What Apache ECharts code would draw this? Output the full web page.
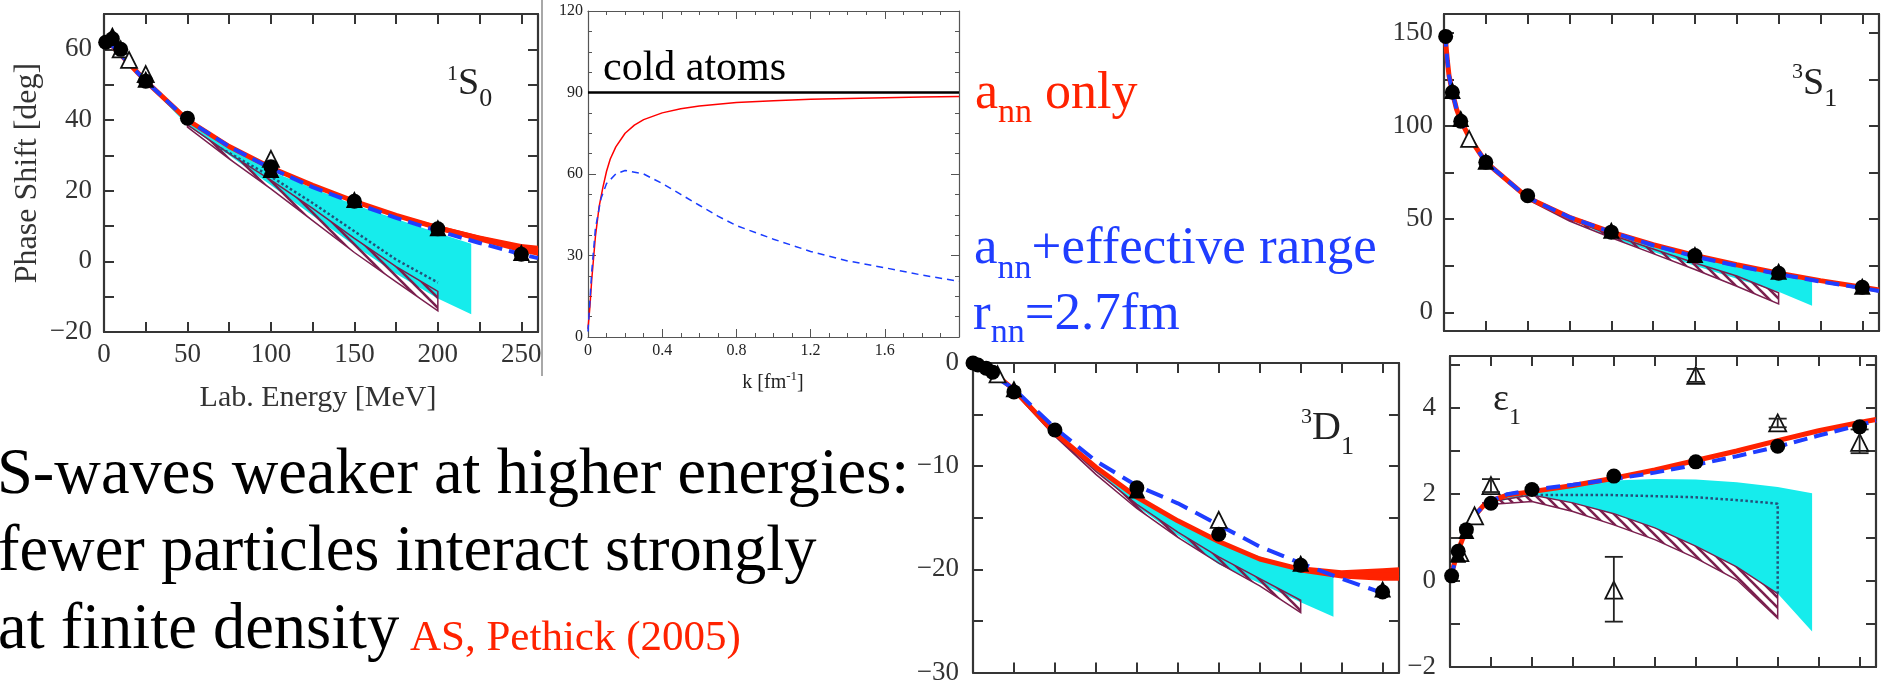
<!DOCTYPE html>
<html>
<head>
<meta charset="utf-8">
<script src="https://cdn.jsdelivr.net/npm/echarts@6/dist/echarts.min.js"></script>
<style>
  html, body { margin: 0; padding: 0; background: #fff; }
  #chart { width: 1886px; height: 686px; }
</style>
</head>
<body>
<div id="chart"></div>
<script>
// ---------- 1S0 panel (lab energy, MeV) ----------
const s0LineX   = [1, 5, 10, 15, 25, 50, 75, 100, 125, 150, 175, 200, 225, 250, 260];
const s0RedY    = [62, 61, 58.5, 56, 51, 40, 32.5, 26.5, 21.5, 17, 13, 9.5, 6.5, 3.8, 3.0];
const s0BlueY   = [62, 61, 58.5, 56, 51, 40, 32.5, 26.3, 21, 16.5, 12.3, 8.6, 5.2, 2.0, 0.9];
const s0RedBandX = [175, 200, 225, 250, 260];
const s0RedBandHi = [13.4, 10.2, 7.3, 4.9, 4.4];
const s0RedBandLo = [12.6, 8.8, 5.6, 2.6, 1.6];
const s0CyanHiX = [20, 50, 100, 150, 200, 220];
const s0CyanHiY = [53.5, 40, 25.5, 16, 8, 5];
const s0CyanLoX = [20, 50, 75, 100, 125, 150, 175, 200, 220];
const s0CyanLoY = [53, 38.5, 30, 21.5, 13, 4.5, -3.5, -10.5, -15];
const s0HatchX  = [50, 75, 100, 125, 150, 175, 200];
const s0HatchLo = [38, 29, 20.5, 11.5, 2.5, -5.8, -14];
const s0HatchHi = [38.6, 30.5, 23, 15, 6.5, -1.5, -8.5];
const s0DotX    = [70, 100, 125, 150, 175, 200];
const s0DotY    = [32, 24, 16.5, 8.5, 0.5, -6];
const s0CircX   = [1, 5, 10, 25, 50, 100, 150, 200, 250];
const s0CircY   = [62, 63, 60, 51, 40.5, 26.8, 17, 9.2, 2];
const s0TriX    = [5, 25, 100, 150, 200, 250];
const s0TriY    = [64, 51.5, 26, 17.5, 9.5, 2.5];
const s0OpenX   = [10, 15, 25, 100];
const s0OpenY   = [60, 57, 53, 29];

// ---------- cold atoms panel (k, fm^-1) ----------
const kRedX  = [0, 0.01, 0.02, 0.04, 0.06, 0.08, 0.1, 0.12, 0.15, 0.2, 0.25, 0.3, 0.4, 0.5, 0.6, 0.8, 1.0, 1.2, 1.4, 1.6, 1.8, 2.0];
const kRedY  = [3, 11, 21, 37, 48, 55, 61, 65.5, 70, 75, 78, 80, 82.5, 84, 85, 86.3, 87, 87.5, 87.8, 88.1, 88.3, 88.5];
const kBlueX = [0, 0.02, 0.04, 0.07, 0.1, 0.15, 0.2, 0.3, 0.4, 0.5, 0.6, 0.7, 0.8, 1.0, 1.2, 1.4, 1.6, 1.8, 2.0];
const kBlueY = [2, 24, 40, 51, 56.5, 60, 61.3, 60, 56.5, 52.5, 48.5, 44.5, 41, 36, 31.5, 28, 25.5, 22.8, 20.5];
const kColdX = [0, 2];
const kColdY = [90, 90];

// ---------- 3S1 panel ----------
const s1LineX  = [0.5, 1, 2, 3, 5, 7.5, 10, 15, 25, 50, 75, 100, 125, 150, 175, 200, 225, 250, 260];
const s1RedY   = [150, 145, 135, 127, 118, 109, 103, 94, 80.5, 61.5, 51, 43, 36.3, 30.5, 25.5, 21, 17, 13.5, 12];
const s1BlueY  = [150, 145, 135, 127, 118, 109, 103, 94, 80.5, 61.5, 51, 43, 36, 30, 25, 20.5, 16.5, 13, 11.5];
const s1CyanX  = [25, 50, 100, 150, 200, 220];
const s1CyanHi = [80.5, 61.5, 42.5, 29.5, 20, 16.5];
const s1CyanLo = [80, 60.5, 40, 25, 11, 3.5];
const s1HatchX  = [50, 75, 100, 125, 150, 175, 200];
const s1HatchLo = [60.5, 49, 40, 31.5, 23, 14, 4.5];
const s1HatchHi = [61, 50, 41.5, 34, 26.5, 19.5, 10.5];
const s1CircX  = [1, 5, 10, 25, 50, 100, 150, 200, 250];
const s1CircY  = [148, 118, 102.5, 80.5, 62.5, 43, 30.5, 21, 13.5];
const s1TriX   = [5, 10, 25, 100, 150, 200, 250];
const s1TriY   = [119, 104, 81, 44, 31, 22, 14];
const s1OpenX  = [15];
const s1OpenY  = [93];

// ---------- 3D1 panel ----------
const d1RedX   = [0, 10, 25, 50, 75, 100, 125, 150, 175, 200, 225, 250, 260];
const d1RedY   = [0, -0.6, -2.6, -6.8, -10.1, -13.0, -15.3, -17.3, -19.0, -20.0, -20.5, -20.6, -20.5];
const d1BlueX  = [0, 25, 50, 75, 100, 125, 150, 175, 200, 225, 250];
const d1BlueY  = [0, -2.5, -6.3, -9.5, -11.9, -13.6, -15.7, -17.8, -19.4, -20.9, -22.3];
const d1RedBandX  = [200, 225, 250, 260];
const d1RedBandHi = [-19.7, -20.1, -19.9, -19.8];
const d1RedBandLo = [-20.3, -20.9, -21.1, -21.1];
const d1CyanX  = [50, 100, 150, 200, 220];
const d1CyanHi = [-6.8, -13, -17.4, -20.1, -20.4];
const d1CyanLo = [-7, -13.9, -19.5, -23.2, -24.6];
const d1HatchX  = [25, 50, 75, 100, 125, 150, 175, 200];
const d1HatchLo = [-2.8, -7.1, -10.8, -14.1, -16.9, -19.4, -21.6, -24.2];
const d1HatchHi = [-2.6, -6.9, -10.5, -13.7, -16.4, -18.8, -20.9, -23.0];
const d1CircX  = [0, 3, 8, 12, 25, 50, 100, 150, 200, 250];
const d1CircY  = [0, -0.2, -0.5, -0.9, -2.8, -6.5, -12.1, -16.6, -19.6, -22.2];
const d1TriX   = [25, 100, 200, 250];
const d1TriY   = [-2.5, -12.3, -19.4, -21.9];
const d1OpenX  = [15, 150];
const d1OpenY  = [-1.1, -15.2];

// ---------- epsilon1 panel ----------
const e1LineX  = [0, 5, 10, 15, 20, 25, 35, 50, 75, 100, 125, 150, 175, 200, 225, 250, 260];
const e1RedY   = [0.05, 0.7, 1.2, 1.5, 1.72, 1.85, 1.98, 2.06, 2.2, 2.37, 2.56, 2.78, 3.0, 3.24, 3.47, 3.66, 3.73];
const e1BlueY  = [0.05, 0.65, 1.15, 1.5, 1.72, 1.85, 2.0, 2.1, 2.22, 2.35, 2.5, 2.68, 2.88, 3.1, 3.36, 3.6, 3.7];
const e1CyanX  = [25, 50, 75, 100, 125, 150, 175, 200, 221];
const e1CyanHi = [1.85, 2.05, 2.2, 2.32, 2.35, 2.34, 2.28, 2.17, 2.02];
const e1CyanLo = [1.8, 1.98, 1.8, 1.55, 1.22, 0.8, 0.32, -0.3, -1.18];
const e1HatchX  = [20, 50, 75, 100, 125, 150, 175, 200];
const e1HatchLo = [1.75, 1.83, 1.6, 1.29, 0.95, 0.52, 0.02, -0.87];
const e1HatchHi = [1.8, 1.98, 1.8, 1.55, 1.22, 0.8, 0.32, -0.3];
const e1DotX   = [40, 100, 150, 180, 200, 200];
const e1DotY   = [1.98, 1.98, 1.93, 1.85, 1.78, -0.3];
const e1CircX  = [1, 5, 10, 25, 50, 100, 150, 200, 250];
const e1CircY  = [0.11, 0.68, 1.18, 1.79, 2.11, 2.42, 2.75, 3.11, 3.56];
const e1TriX   = [5, 10];
const e1TriY   = [0.6, 1.15];
const e1OpenX  = [6, 15, 25, 100, 150, 200, 250];
const e1OpenY  = [0.65, 1.5, 2.2, -0.22, 4.75, 3.65, 3.2];
const e1ErrX   = [25, 100, 150, 200, 250];
const e1ErrLo  = [2.05, -0.95, 4.6, 3.55, 2.95];
const e1ErrHi  = [2.35, 0.55, 4.9, 3.75, 3.5];

// ---------- ticks and labels ----------
const energyTicks  = [0, 25, 50, 75, 100, 125, 150, 175, 200, 225, 250];
const energyLabels = [0, 50, 100, 150, 200, 250];
const s0YTicks  = [-20, -10, 0, 10, 20, 30, 40, 50, 60, 70];
const s0YLabels = [-20, 0, 20, 40, 60];
const s1YTicks  = [0, 25, 50, 75, 100, 125, 150];
const s1YLabels = [0, 50, 100, 150];
const d1YTicks  = [-30, -25, -20, -15, -10, -5, 0];
const d1YLabels = [-30, -20, -10, 0];
const e1YTicks  = [-2, -1, 0, 1, 2, 3, 4, 5];
const e1YLabels = [-2, 0, 2, 4];

// ---------- styles ----------
const SERIF = '"Liberation Serif", "Times New Roman", serif';
const FRAME = '#353535';
const RED = '#ff2200';
const BLUE = '#1f3dff';
const CYAN = '#16ecec';
const HATCH = '#7a1f4e';

const chart = echarts.init(document.getElementById('chart'));

function neg(v) { return v < 0 ? '\u2212' + (-v) : String(v); }
function pairs(xs, ys) { return xs.map((x, k) => [x, ys[k]]); }

// hatch pattern tile
const tile = document.createElement('canvas');
tile.width = 10; tile.height = 10;
(function () {
  const c = tile.getContext('2d');
  c.strokeStyle = HATCH; c.lineWidth = 2.6;
  c.beginPath(); c.moveTo(-2, -2); c.lineTo(12, 12); c.stroke();
  c.beginPath(); c.moveTo(8, -2); c.lineTo(12, 2); c.stroke();
  c.beginPath(); c.moveTo(-2, 8); c.lineTo(2, 12); c.stroke();
})();

const grids = [
  {left: 104, top: 14, width: 434, height: 318},   // 1S0
  {left: 588, top: 11, width: 371, height: 326},   // cold atoms
  {left: 1444, top: 14, width: 435, height: 317},  // 3S1
  {left: 973, top: 363, width: 426, height: 311},  // 3D1
  {left: 1450, top: 356, width: 426, height: 311}  // eps1
];

const xAxes = [], yAxes = [];
function bigFrame(gi, yMin, yMax, yTicks, yLabels, showX, yMargin) {
  const line = {show: true, onZero: false, lineStyle: {color: FRAME, width: 2.2}};
  const tick = (vals) => ({show: true, inside: true, length: 10, customValues: vals, lineStyle: {color: FRAME, width: 2}});
  const lab = (vals, margin) => ({show: true, customValues: vals, fontFamily: SERIF, fontSize: 27, color: '#333', margin: margin, formatter: neg});
  ['bottom', 'top'].forEach((pos, k) => xAxes.push({
    type: 'value', gridIndex: gi, position: pos, min: 0, max: 260,
    axisLine: line, axisTick: tick(energyTicks), splitLine: {show: false},
    axisLabel: (k === 0 && showX) ? lab(energyLabels, 9) : {show: false}
  }));
  ['left', 'right'].forEach((pos, k) => yAxes.push({
    type: 'value', gridIndex: gi, position: pos, min: yMin, max: yMax,
    axisLine: line, axisTick: tick(yTicks), splitLine: {show: false},
    axisLabel: k === 0 ? lab(yLabels, yMargin) : {show: false}
  }));
}
function smallFrame(gi) {
  const line = {show: true, onZero: false, lineStyle: {color: '#555', width: 1.2}};
  const tick = {show: true, inside: true, length: 8, lineStyle: {color: '#555', width: 1}};
  const minor = {show: true, splitNumber: 4, length: 4, lineStyle: {color: '#555', width: 1}};
  const lab = {show: true, fontFamily: SERIF, fontSize: 16, color: '#222', margin: 6, showMaxLabel: false};
  ['bottom', 'top'].forEach((pos, k) => xAxes.push({
    type: 'value', gridIndex: gi, position: pos, min: 0, max: 2, interval: 0.4,
    axisLine: line, axisTick: tick, minorTick: minor, splitLine: {show: false},
    axisLabel: k === 0 ? lab : {show: false}
  }));
  ['left', 'right'].forEach((pos, k) => yAxes.push({
    type: 'value', gridIndex: gi, position: pos, min: 0, max: 120, interval: 30,
    axisLine: line, axisTick: tick, minorTick: minor, splitLine: {show: false},
    axisLabel: k === 0 ? Object.assign({}, lab, {showMaxLabel: true, margin: 5}) : {show: false}
  }));
}
bigFrame(0, -20, 70, s0YTicks, s0YLabels, true, 12);
smallFrame(1);
bigFrame(2, -10, 160, s1YTicks, s1YLabels, false, 11);
bigFrame(3, -30, 0, d1YTicks, d1YLabels, false, 14);
bigFrame(4, -2, 5.2, e1YTicks, e1YLabels, false, 14);

const series = [];
function lineS(gi, xs, ys, color, width, type, z) {
  series.push({type: 'line', xAxisIndex: 2 * gi, yAxisIndex: 2 * gi, data: pairs(xs, ys),
    symbol: 'none', silent: true, z: z, lineStyle: {color: color, width: width, type: type}});
}
function bandS(gi, xHi, yHi, xLo, yLo, fill, stroke, z) {
  series.push({type: 'custom', xAxisIndex: 2 * gi, yAxisIndex: 2 * gi, clip: true, silent: true, z: z,
    data: [[xHi[0], yHi[0]]],
    renderItem: function (params, api) {
      const pts = [];
      xHi.forEach((x, k) => pts.push(api.coord([x, yHi[k]])));
      for (let k = xLo.length - 1; k >= 0; k--) pts.push(api.coord([xLo[k], yLo[k]]));
      return {type: 'polygon', shape: {points: pts},
        style: {fill: fill, stroke: stroke || null, lineWidth: stroke ? 1.5 : 0}};
    }});
}
function markS(gi, xs, ys, symbol, size, fill, border, z) {
  series.push({type: 'scatter', xAxisIndex: 2 * gi, yAxisIndex: 2 * gi, data: pairs(xs, ys),
    symbol: symbol, symbolSize: size, silent: true, z: z,
    itemStyle: {color: fill, borderColor: border || fill, borderWidth: border ? 1.8 : 0, opacity: 1}});
}
function errS(gi, xs, lo, hi) {
  series.push({type: 'custom', xAxisIndex: 2 * gi, yAxisIndex: 2 * gi, silent: true, z: 9,
    data: xs.map((x, k) => [x, lo[k], hi[k]]), encode: {x: 0, y: [1, 2]},
    renderItem: function (params, api) {
      const a = api.coord([api.value(0), api.value(1)]);
      const b = api.coord([api.value(0), api.value(2)]);
      const st = {stroke: '#222', lineWidth: 1.8};
      return {type: 'group', children: [
        {type: 'line', shape: {x1: a[0], y1: a[1], x2: b[0], y2: b[1]}, style: st},
        {type: 'line', shape: {x1: a[0] - 9, y1: a[1], x2: a[0] + 9, y2: a[1]}, style: st},
        {type: 'line', shape: {x1: b[0] - 9, y1: b[1], x2: b[0] + 9, y2: b[1]}, style: st}
      ]};
    }});
}
const hatchFill = {image: tile, repeat: 'repeat'};
const DASH = [14, 7];

// 1S0
bandS(0, s0CyanHiX, s0CyanHiY, s0CyanLoX, s0CyanLoY, CYAN, null, 2);
bandS(0, s0HatchX, s0HatchHi, s0HatchX, s0HatchLo, hatchFill, HATCH, 3);
lineS(0, s0DotX, s0DotY, '#24507a', 2.5, 'dotted', 4);
bandS(0, s0RedBandX, s0RedBandHi, s0RedBandX, s0RedBandLo, RED, null, 5);
lineS(0, s0LineX, s0RedY, RED, 5, 'solid', 5);
lineS(0, s0LineX, s0BlueY, BLUE, 4, DASH, 6);
markS(0, s0OpenX, s0OpenY, 'triangle', 16, '#fff', '#111', 8);
markS(0, s0TriX, s0TriY, 'triangle', 17, '#000', null, 9);
markS(0, s0CircX, s0CircY, 'circle', 15, '#000', null, 9);

// cold atoms
lineS(1, kColdX, kColdY, '#000', 2.5, 'solid', 5);
lineS(1, kRedX, kRedY, '#ff0000', 1.5, 'solid', 6);
lineS(1, kBlueX, kBlueY, '#1a3cff', 1.5, [7, 5], 6);

// 3S1
bandS(2, s1CyanX, s1CyanHi, s1CyanX, s1CyanLo, CYAN, null, 2);
bandS(2, s1HatchX, s1HatchHi, s1HatchX, s1HatchLo, hatchFill, HATCH, 3);
lineS(2, s1LineX, s1RedY, RED, 5, 'solid', 5);
lineS(2, s1LineX, s1BlueY, BLUE, 4, DASH, 6);
markS(2, s1OpenX, s1OpenY, 'triangle', 16, '#fff', '#111', 8);
markS(2, s1TriX, s1TriY, 'triangle', 17, '#000', null, 9);
markS(2, s1CircX, s1CircY, 'circle', 15, '#000', null, 9);

// 3D1
bandS(3, d1CyanX, d1CyanHi, d1CyanX, d1CyanLo, CYAN, null, 2);
bandS(3, d1HatchX, d1HatchHi, d1HatchX, d1HatchLo, hatchFill, HATCH, 3);
bandS(3, d1RedBandX, d1RedBandHi, d1RedBandX, d1RedBandLo, RED, null, 5);
lineS(3, d1RedX, d1RedY, RED, 5, 'solid', 5);
lineS(3, d1BlueX, d1BlueY, BLUE, 4, [18, 9], 6);
markS(3, d1OpenX, d1OpenY, 'triangle', 16, '#fff', '#111', 8);
markS(3, d1TriX, d1TriY, 'triangle', 17, '#000', null, 9);
markS(3, d1CircX, d1CircY, 'circle', 15, '#000', null, 9);

// eps1
bandS(4, e1CyanX, e1CyanHi, e1CyanX, e1CyanLo, CYAN, null, 2);
bandS(4, e1HatchX, e1HatchHi, e1HatchX, e1HatchLo, hatchFill, HATCH, 3);
lineS(4, e1DotX, e1DotY, '#24507a', 2.5, 'dotted', 4);
lineS(4, e1LineX, e1RedY, RED, 5, 'solid', 5);
lineS(4, e1LineX, e1BlueY, BLUE, 4, DASH, 6);
errS(4, e1ErrX, e1ErrLo, e1ErrHi);
markS(4, e1OpenX, e1OpenY, 'triangle', 17, '#fff', '#111', 8);
markS(4, e1TriX, e1TriY, 'triangle', 16, '#000', null, 9);
markS(4, e1CircX, e1CircY, 'circle', 15, '#000', null, 9);

// ---------- free text (measured runs, for sub/superscripts) ----------
const mctx = document.createElement('canvas').getContext('2d');
const graphic = [];
function fontOf(size) { return size + 'px ' + SERIF; }
function runText(x, baseline, parts, color, center) {
  let total = 0;
  parts.forEach(p => { mctx.font = fontOf(p[1]); total += mctx.measureText(p[0]).width; });
  let cx = center ? x - total / 2 : x;
  parts.forEach(p => {
    const size = p[1];
    mctx.font = fontOf(size);
    graphic.push({type: 'text', x: cx, y: baseline + (p[2] || 0) - 0.34 * size, silent: true, z: 20,
      style: {text: p[0], font: fontOf(size), fill: p[3] || color, align: 'left', verticalAlign: 'middle'}});
    cx += mctx.measureText(p[0]).width;
  });
}

runText(603, 83, [['cold atoms', 42]], '#000');
runText(975, 112, [['a', 52], ['nn', 34, 13], [' only', 52]], RED);
runText(974, 267, [['a', 53], ['nn', 34, 14], ['+effective range', 53]], BLUE);
runText(973, 333, [['r', 53], ['nn', 34, 12], ['=2.7fm', 53]], BLUE);

runText(-3, 498, [['S-waves weaker at higher energies:', 64.5]], '#000');
runText(-2, 575, [['fewer particles interact strongly', 64.5]], '#000');
runText(-2, 653, [['at finite density', 64.5], [' AS, Pethick (2005)', 43, 0, RED]], '#000');

runText(447, 97, [['1', 22, -15], ['S', 38], ['0', 26, 11]], '#222');
runText(1792, 97, [['3', 22, -17], ['S', 38], ['1', 26, 11]], '#222');
runText(1301, 442, [['3', 22, -17], ['D', 40], ['1', 26, 14]], '#222');
runText(1493, 413, [['\u03b5', 38], ['1', 24, 13]], '#222');

runText(318, 408, [['Lab. Energy [MeV]', 30]], '#333', true);
runText(773, 390, [['k [fm', 20], ['-1', 13, -9], [']', 20]], '#222', true);
graphic.push({type: 'text', x: 28, y: 173, rotation: Math.PI / 2, silent: true, z: 20,
  style: {text: 'Phase Shift [deg]', font: fontOf(32), fill: '#333', align: 'center', verticalAlign: 'middle'}});
graphic.push({type: 'line', silent: true, z: 1, shape: {x1: 542, y1: 0, x2: 542, y2: 376},
  style: {stroke: '#a8a8a8', lineWidth: 2}});

chart.setOption({
  animation: false,
  backgroundColor: '#fff',
  grid: grids,
  xAxis: xAxes,
  yAxis: yAxes,
  series: series,
  graphic: graphic
});
</script>
</body>
</html>
